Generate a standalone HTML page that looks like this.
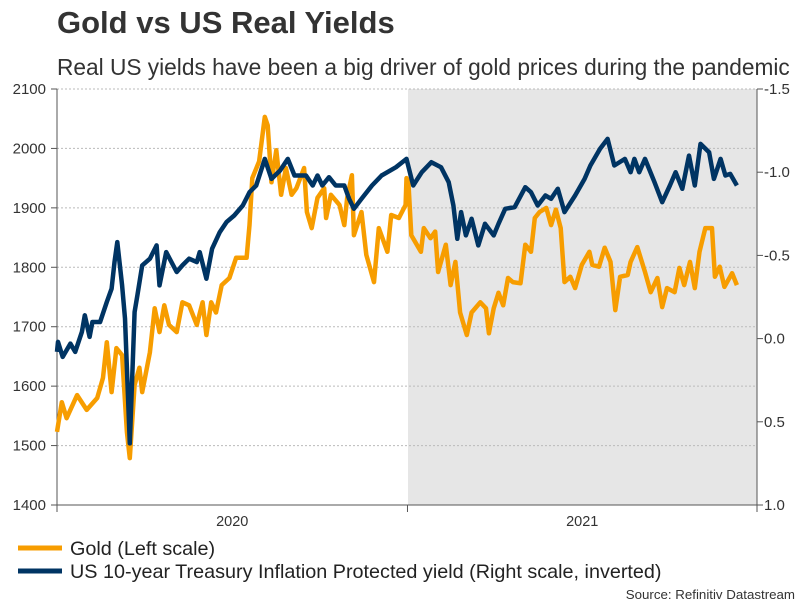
<!DOCTYPE html>
<html><head><meta charset="utf-8"><style>
body{margin:0;background:#fff;font-family:"Liberation Sans",sans-serif;}
</style></head><body>
<svg id="chart" width="806" height="605" viewBox="0 0 806 605" xmlns="http://www.w3.org/2000/svg" font-family="Liberation Sans, sans-serif">
<text x="57" y="33" font-size="31" font-weight="bold" fill="#333">Gold vs US Real Yields</text>
<text x="57" y="75" font-size="22.7" fill="#333">Real US yields have been a big driver of gold prices during the pandemic</text>
<rect x="408" y="89" width="349" height="416" fill="#e6e6e6"/>
<g id="grid"></g>
<g id="axes"></g>
<g id="series"></g>
<g>
<line x1="18" y1="548" x2="62" y2="548" stroke="#f79d00" stroke-width="5"/>
<text x="70" y="555" font-size="19.8" fill="#222">Gold (Left scale)</text>
<line x1="18" y1="571" x2="62" y2="571" stroke="#003463" stroke-width="5"/>
<text x="70" y="578" font-size="19.8" fill="#222">US 10-year Treasury Inflation Protected yield (Right scale, inverted)</text>
</g>
<text x="795" y="599" font-size="13.3" fill="#333" text-anchor="end">Source: Refinitiv Datastream</text>
</svg>
<script>
const leftTicks=[1400,1500,1600,1700,1800,1900,2000,2100];
const rightTicks=[-1.5,-1.0,-0.5,0.0,0.5,1.0];
const rightTickLabels=["-1.5","-1.0","-0.5","0.0","0.5","1.0"];
const yearLabels=["2020","2021"];
const yearStartDays=[0,366,731];
const goldDays=[0,5,10,21,31,42,48,52,57,62,68,73,76,81,86,89,97,102,107,112,117,125,131,138,146,152,156,161,166,172,180,187,198,201,204,211,217,220,224,229,234,239,245,250,258,261,266,272,279,281,286,295,300,303,308,310,318,323,331,336,345,349,357,364,365,367,370,380,383,390,395,398,406,411,416,421,428,433,442,448,451,456,461,466,471,476,484,489,495,499,504,511,516,521,526,530,536,541,548,556,559,566,572,578,583,588,596,599,606,614,620,627,632,637,645,650,655,661,666,671,677,684,687,692,697,705,710];
const goldValues=[1523,1573,1546,1585,1560,1580,1614,1674,1590,1664,1652,1523,1479,1602,1631,1590,1657,1731,1691,1736,1703,1691,1741,1736,1703,1741,1686,1741,1724,1770,1782,1816,1816,1871,1950,1978,2053,2039,1943,1997,1922,1967,1922,1933,1967,1893,1866,1917,1933,1883,1922,1905,1871,1917,1955,1854,1893,1821,1775,1866,1826,1888,1883,1905,1950,1943,1854,1826,1866,1849,1860,1792,1838,1770,1809,1724,1686,1724,1741,1731,1689,1731,1757,1736,1782,1775,1773,1838,1826,1883,1893,1900,1871,1897,1866,1775,1784,1765,1804,1826,1804,1801,1833,1809,1728,1784,1787,1809,1834,1792,1758,1782,1733,1765,1758,1799,1770,1809,1765,1826,1866,1866,1784,1801,1767,1790,1770];
const tipsDays=[0,1,6,14,19,26,29,34,37,45,52,57,60,63,68,71,76,81,84,89,97,104,107,114,125,131,138,146,149,156,162,170,177,185,194,201,208,217,224,233,241,248,260,267,272,277,284,291,300,305,310,318,329,339,354,365,372,381,391,401,409,414,418,422,427,433,440,447,456,461,468,478,489,495,502,510,516,523,530,541,551,557,567,575,582,593,599,603,608,614,624,632,640,646,653,660,666,672,681,686,693,698,703,710];
const tipsValues=[0.08,0.02,0.11,0.03,0.08,-0.04,-0.14,-0.01,-0.10,-0.10,-0.22,-0.30,-0.46,-0.58,-0.32,-0.12,0.63,-0.16,-0.26,-0.44,-0.48,-0.56,-0.32,-0.52,-0.40,-0.44,-0.48,-0.46,-0.52,-0.36,-0.54,-0.64,-0.70,-0.74,-0.80,-0.88,-0.92,-1.08,-0.96,-1.01,-1.08,-0.98,-0.98,-0.92,-0.98,-0.92,-0.97,-0.92,-0.92,-0.84,-0.78,-0.84,-0.92,-0.98,-1.03,-1.08,-0.92,-1.00,-1.06,-1.03,-0.94,-0.80,-0.60,-0.76,-0.62,-0.72,-0.56,-0.69,-0.62,-0.69,-0.78,-0.79,-0.91,-0.88,-0.80,-0.86,-0.84,-0.90,-0.76,-0.86,-0.96,-1.04,-1.14,-1.20,-1.04,-1.08,-1.00,-1.08,-1.00,-1.08,-0.94,-0.82,-0.92,-1.00,-0.90,-1.10,-0.92,-1.17,-1.12,-0.96,-1.08,-0.98,-0.99,-0.92];

const NS="http://www.w3.org/2000/svg";
const X0=57,X1=757,Y0=505,Y1=89;
function xScale(d){return X0+(d/731)*(X1-X0);}
function yLeft(v){return Y0-(v-1400)/700*(Y0-Y1);}
function yRight(v){return Y1+(v+1.5)/2.5*(Y0-Y1);}
function mk(tag,attrs,parent){const e=document.createElementNS(NS,tag);for(const k in attrs)e.setAttribute(k,attrs[k]);parent.appendChild(e);return e;}
const grid=document.getElementById('grid'),axes=document.getElementById('axes'),series=document.getElementById('series');
leftTicks.forEach(v=>{
  const y=yLeft(v);
  if(v>1400){const g=mk('line',{x1:X0,x2:X1,y1:y,y2:y,stroke:'#bbb','stroke-width':1,'stroke-dasharray':'2,2'},grid);
  
  }
  const t=mk('line',{x1:X0-6,x2:X0,y1:y,y2:y,stroke:'#555','stroke-width':1},axes);
  
  
  const l=mk('text',{x:46,y:y+5,'font-size':15,fill:'#333','text-anchor':'end'},axes);
  l.textContent=v;
  
  
});
rightTicks.forEach((v,i)=>{
  const y=yRight(v);
  const t=mk('line',{x1:X1,x2:X1+6,y1:y,y2:y,stroke:'#555','stroke-width':1},axes);
  
  
  const l=mk('text',{x:764,y:y+5,'font-size':15,fill:'#333'},axes);
  l.textContent=rightTickLabels[i];
  
  
});
const la=mk('line',{x1:X0,x2:X0,y1:Y1,y2:Y0,stroke:'#555','stroke-width':1},axes);


const ra=mk('line',{x1:X1,x2:X1,y1:Y1,y2:Y0,stroke:'#555','stroke-width':1},axes);


const ba=mk('line',{x1:X0,x2:X1,y1:Y0,y2:Y0,stroke:'#555','stroke-width':1},axes);


yearStartDays.forEach((d,i)=>{
  const x=xScale(d);
  const t=mk('line',{x1:x,x2:x,y1:Y0,y2:Y0+7,stroke:'#555','stroke-width':1},axes);
  
  
});
yearLabels.forEach((yl,i)=>{
  const x=(xScale(yearStartDays[i])+xScale(yearStartDays[i+1]))/2;
  const l=mk('text',{x:x,y:526,'font-size':14.5,fill:'#333','text-anchor':'middle'},axes);
  l.textContent=yl;
  
  
});
const gp=mk('path',{d:goldDays.map((d,i)=>(i?'L':'M')+xScale(d).toFixed(1)+','+yLeft(goldValues[i]).toFixed(1)).join(''),fill:'none',stroke:'#f79d00','stroke-width':4.5,'stroke-linejoin':'round'},series);


const tp=mk('path',{d:tipsDays.map((d,i)=>(i?'L':'M')+xScale(d).toFixed(1)+','+yRight(tipsValues[i]).toFixed(1)).join(''),fill:'none',stroke:'#003463','stroke-width':4.5,'stroke-linejoin':'round'},series);


</script>
</body></html>
